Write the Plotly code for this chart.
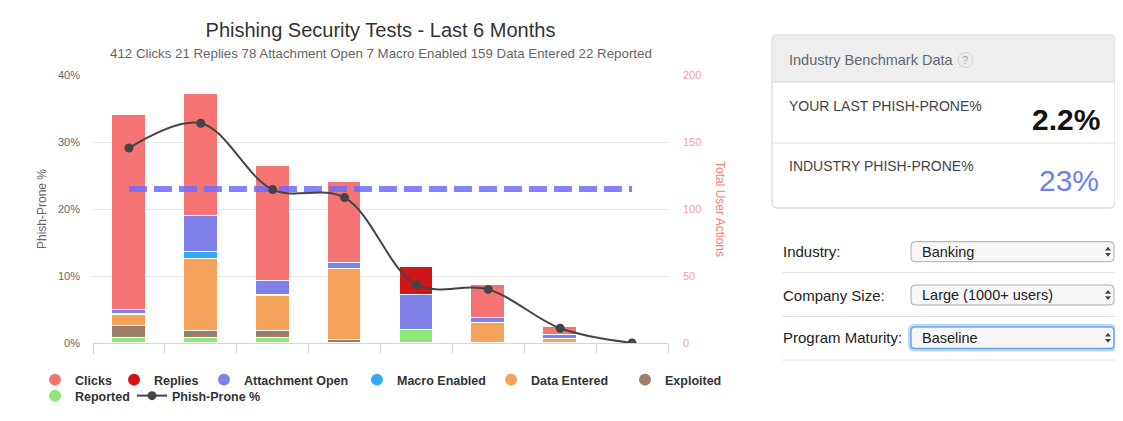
import plotly.graph_objects as go

# ---------------- data ----------------
months = [0, 1, 2, 3, 4, 5, 6, 7]
clicks = [145, 91, 86, 60, 0, 24, 6, 0]
replies = [0, 0, 0, 0, 21, 0, 0, 0]
attachment_open = [3, 27, 10, 5, 26, 4, 3, 0]
macro_enabled = [1, 5, 1, 0, 0, 0, 0, 0]
data_entered = [8, 54, 26, 53, 0, 15, 3, 0]
exploited = [9, 5, 5, 2, 0, 0, 0, 0]
reported = [4, 4, 4, 0, 10, 0, 0, 0]
phish_prone = [29.1, 32.8, 22.9, 21.7, 8.7, 8.0, 2.2, 0.0]
industry_phish_prone = 23
your_last_phish_prone = 2.2

pct_ticks = [0, 10, 20, 30, 40]
pct_labels = ["0%", "10%", "20%", "30%", "40%"]
action_ticks = [0, 50, 100, 150, 200]

# ---------------- geometry helpers ----------------
# the page body has an 8px margin, so the figure is drawn 8px smaller and
# all positions below are given in window pixels and shifted back.
OFF = 8
W, H = 1123 - OFF, 421 - OFF
L = 93 - OFF
T = 75 - OFF
PLOT_RIGHT = 668 - OFF
PLOT_BOTTOM = 343 - OFF
R = W - PLOT_RIGHT
B = H - PLOT_BOTTOM
PW = W - L - R
PH = H - T - B


def X(p):
    return (p - OFF - L) / PW


def Y(p):
    return (PLOT_BOTTOM - (p - OFF)) / PH


def rrect(x0, y0, x1, y1, r, top_only=False):
    rb = 0 if top_only else r
    return (f"M {X(x0 + r)},{Y(y0)} L {X(x1 - r)},{Y(y0)} "
            f"Q {X(x1)},{Y(y0)} {X(x1)},{Y(y0 + r)} "
            f"L {X(x1)},{Y(y1 - rb)} Q {X(x1)},{Y(y1)} {X(x1 - rb)},{Y(y1)} "
            f"L {X(x0 + rb)},{Y(y1)} Q {X(x0)},{Y(y1)} {X(x0)},{Y(y1 - rb)} "
            f"L {X(x0)},{Y(y0 + r)} Q {X(x0)},{Y(y0)} {X(x0 + r)},{Y(y0)} Z")


FONT = "Liberation Sans, Arial, sans-serif"

fig = go.Figure()

series = [
    ("Reported", reported, "#8ee878"),
    ("Exploited", exploited, "#9b7d69"),
    ("Data Entered", data_entered, "#f5a35a"),
    ("Macro Enabled", macro_enabled, "#34aaf5"),
    ("Attachment Open", attachment_open, "#8080e8"),
    ("Replies", replies, "#d01419"),
    ("Clicks", clicks, "#f57373"),
]
colors = {n: c for n, _, c in series}

for name, vals, col in series:
    fig.add_trace(go.Bar(
        x=months, y=vals, name=name, yaxis="y", width=0.47,
        marker=dict(color=col, line=dict(color="white", width=1)),
        legendgroup=name, showlegend=False,
        hovertemplate=name + ": %{y}<extra></extra>",
    ))

# benchmark dashed line
fig.add_trace(go.Scatter(
    x=[months[0], months[-1]], y=[industry_phish_prone, industry_phish_prone],
    yaxis="y2", mode="lines", showlegend=False,
    line=dict(color="rgba(108,108,252,0.85)", width=6, dash="18px,7px"),
    hoverinfo="skip",
))

# phish-prone line
fig.add_trace(go.Scatter(
    x=months, y=phish_prone, yaxis="y2", mode="lines+markers",
    name="Phish-Prone %", legend="legend8",
    line=dict(color="#444444", width=2, shape="spline", smoothing=1),
    marker=dict(color="#444444", size=9),
))

LEG_FONT = dict(family=FONT, size=12.5, color="#333333", weight="bold")
legend_order = [
    ("Clicks", 55, 380), ("Replies", 134, 380), ("Attachment Open", 224, 380),
    ("Macro Enabled", 377, 380), ("Data Entered", 511, 380), ("Exploited", 645, 380),
    ("Reported", 55, 396),
]


def legend_box(cx, cy):
    return dict(
        x=(cx - OFF - 20) / W, xref="container", xanchor="left",
        y=1 - (cy - OFF) / H, yref="container", yanchor="middle",
        orientation="h", bgcolor="rgba(0,0,0,0)", borderwidth=0, font=LEG_FONT,
    )


legend_layouts = {}
for i, (name, cx, cy) in enumerate(legend_order):
    key = "legend" if i == 0 else f"legend{i + 1}"
    fig.add_trace(go.Scatter(
        x=[None], y=[None], mode="markers", name=name, legend=key,
        legendgroup=name, marker=dict(color=colors[name], size=12),
    ))
    legend_layouts[key] = legend_box(cx, cy)
legend_layouts["legend8"] = legend_box(152, 396)

subtitle = (f"{sum(clicks)} Clicks {sum(replies)} Replies {sum(attachment_open)} Attachment Open "
            f"{sum(macro_enabled)} Macro Enabled {sum(data_entered)} Data Entered "
            f"{sum(reported)} Reported")

shapes = []
annotations = []

# benchmark box
shapes.append(dict(type="path", xref="paper", yref="paper", path=rrect(772, 35, 1115, 208, 5),
                   line=dict(color="#cfcfcf", width=1), fillcolor="white"))
shapes.append(dict(type="path", xref="paper", yref="paper", path=rrect(772.5, 35.5, 1114.5, 82, 5, top_only=True),
                   line=dict(width=0), fillcolor="#eeeeef"))
shapes.append(dict(type="line", xref="paper", yref="paper", x0=X(772), x1=X(1115), y0=Y(82), y1=Y(82),
                   line=dict(color="#d6d6d8", width=1)))
shapes.append(dict(type="line", xref="paper", yref="paper", x0=X(772), x1=X(1115), y0=Y(143), y1=Y(143),
                   line=dict(color="#e4e4e4", width=1)))
shapes.append(dict(type="circle", xref="paper", yref="paper", x0=X(958), x1=X(973), y0=Y(52.5), y1=Y(67.5),
                   line=dict(color="#d2d2d2", width=1), fillcolor="#ececec"))
annotations.append(dict(text="?", x=X(965.5), y=Y(60.5), xanchor="center", yanchor="middle",
                        font=dict(family=FONT, size=11, color="#a8a8a8")))

annotations += [
    dict(text="Industry Benchmark Data", x=X(787), y=Y(60), xanchor="left", yanchor="middle",
         font=dict(family=FONT, size=14.5, color="#666670")),
    dict(text="YOUR LAST PHISH-PRONE%", x=X(787), y=Y(106), xanchor="left", yanchor="middle",
         font=dict(family=FONT, size=14, color="#444444")),
    dict(text=f"{your_last_phish_prone}%", x=X(1102), y=Y(119), xanchor="right", yanchor="middle",
         font=dict(family=FONT, size=30, color="#111111", weight="bold")),
    dict(text="INDUSTRY PHISH-PRONE%", x=X(787), y=Y(166), xanchor="left", yanchor="middle",
         font=dict(family=FONT, size=14, color="#444444")),
    dict(text=f"{industry_phish_prone}%", x=X(1101), y=Y(180), xanchor="right", yanchor="middle",
         font=dict(family=FONT, size=30, color="#6e7ff2")),
]

# dropdowns
dropdowns = [("Industry:", "Banking", 241.7, 261.7, False),
             ("Company Size:", "Large (1000+ users)", 285, 305, False),
             ("Program Maturity:", "Baseline", 327, 348.5, True)]
for label, value, y0, y1, focus in dropdowns:
    cy = (y0 + y1) / 2
    if focus:
        shapes.append(dict(type="path", xref="paper", yref="paper", path=rrect(909.5, y0 - 1.5, 1115.5, y1 + 1.5, 5),
                           line=dict(color="rgba(110,170,240,0.45)", width=3), fillcolor="rgba(0,0,0,0)"))
    shapes.append(dict(type="path", xref="paper", yref="paper", path=rrect(911, y0, 1114, y1, 4),
                       line=dict(color="#6aa6ea" if focus else "#aaaaaa", width=1.5 if focus else 1),
                       fillcolor="#f7f7f7"))
    shapes.append(dict(type="path", xref="paper", yref="paper",
                       path=f"M {X(1105)},{Y(cy - 1.2)} L {X(1111)},{Y(cy - 1.2)} L {X(1108)},{Y(cy - 5)} Z",
                       line=dict(width=0), fillcolor="#444444"))
    shapes.append(dict(type="path", xref="paper", yref="paper",
                       path=f"M {X(1105)},{Y(cy + 1.2)} L {X(1111)},{Y(cy + 1.2)} L {X(1108)},{Y(cy + 5)} Z",
                       line=dict(width=0), fillcolor="#444444"))
    annotations.append(dict(text=label, x=X(781), y=Y(cy), xanchor="left", yanchor="middle",
                            font=dict(family=FONT, size=15, color="#222222")))
    annotations.append(dict(text=value, x=X(920), y=Y(cy), xanchor="left", yanchor="middle",
                            font=dict(family=FONT, size=14.5, color="#222222")))
for yd in [272.7, 316.5, 360]:
    shapes.append(dict(type="line", xref="paper", yref="paper", x0=X(782), x1=X(1115), y0=Y(yd), y1=Y(yd),
                       line=dict(color="#e2e2e2", width=1)))

# chart texts
annotations += [
    dict(text=subtitle, x=X(381), y=Y(54), xanchor="center", yanchor="middle",
         font=dict(family=FONT, size=13.3, color="#666666")),
    dict(text="Phish-Prone %", x=X(42), y=Y(209), xanchor="center", yanchor="middle", textangle=-90,
         font=dict(family=FONT, size=12, color="#666666")),
    dict(text="Total User Actions", x=X(720), y=Y(209), xanchor="center", yanchor="middle", textangle=90,
         font=dict(family=FONT, size=12, color="#f47c7c")),
]
for a in annotations:
    a.setdefault("xref", "paper")
    a.setdefault("yref", "paper")
    a.setdefault("showarrow", False)

fig.update_layout(
    width=W, height=H, autosize=False,
    margin=dict(l=L, r=R, t=T, b=B, pad=0),
    paper_bgcolor="white", plot_bgcolor="white",
    barmode="stack", bargap=0,
    font=dict(family=FONT, color="#666666"),
    title=dict(text="Phishing Security Tests - Last 6 Months", x=0.5, xref="paper", xanchor="center",
               y=1 - (30 - OFF) / H, yref="container", yanchor="middle",
               font=dict(family=FONT, size=20, color="#333333")),
    xaxis=dict(range=[-0.5, 7.5], showgrid=False, zeroline=False, showline=True,
               linecolor="#ccd6eb", linewidth=1, ticks="outside", ticklen=10, tickcolor="#ccd6eb",
               tickmode="array", tickvals=[m - 0.5 for m in months] + [months[-1] + 0.5],
               showticklabels=False, fixedrange=True),
    yaxis=dict(side="right", range=[0, 200], tickmode="array", tickvals=action_ticks,
               showgrid=True, gridcolor="#e6e6e6", gridwidth=1, zeroline=False,
               tickfont=dict(family=FONT, size=11, color="#f7a0a0"), ticks="",
               ticklabelstandoff=14, fixedrange=True),
    yaxis2=dict(side="left", overlaying="y", range=[0, 40], tickmode="array", tickvals=pct_ticks,
                ticktext=pct_labels, showgrid=False, zeroline=False,
                tickfont=dict(family=FONT, size=11, color="#666666"), ticks="",
                ticklabelstandoff=12, fixedrange=True),
    shapes=shapes,
    annotations=annotations,
    showlegend=True,
    **legend_layouts,
)

fig.write_html("out.html")
